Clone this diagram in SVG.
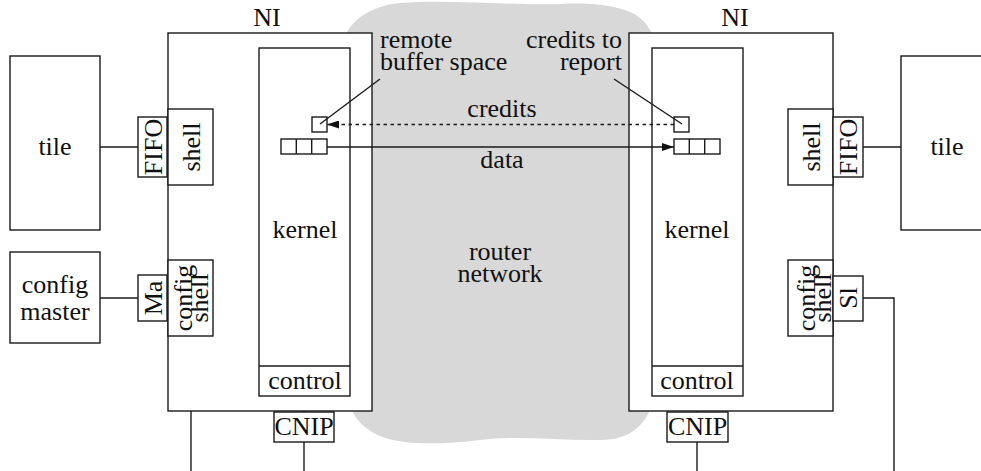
<svg xmlns="http://www.w3.org/2000/svg" width="981" height="471" viewBox="0 0 981 471">
  <defs>
    <style>
      .box { fill: #ffffff; stroke: #1a1a1a; stroke-width: 1.4; }
      .ln { fill: none; stroke: #1a1a1a; stroke-width: 1.4; }
      .dot { fill: none; stroke: #1a1a1a; stroke-width: 1.4; stroke-dasharray: 3.5 3.5; }
      text { font-family: "Liberation Serif", "DejaVu Serif", serif; font-size: 26px; fill: #111111; }
      .mid { text-anchor: middle; }
      .end { text-anchor: end; }
      .cloud { fill: #d8d8d8; stroke: none; }
    </style>
    <marker id="head" viewBox="0 0 12 8" refX="12" refY="4" markerWidth="12" markerHeight="8" markerUnits="userSpaceOnUse" orient="auto">
      <path d="M0,0 L12,4 L0,8 Z" fill="#111111"/>
    </marker>
  </defs>

  <!-- router network cloud -->
  <g id="router-network">
    <path class="cloud" d="M346,34 C353,20 370,6 400,3 C450,-1 520,6 560,4 C600,2 628,8 640,18 C652,28 656,40 656,60 L656,390 C650,425 630,440 600,440 C560,441 520,435 480,440 C440,445 400,445 380,436 C362,428 350,415 348,395 Z"/>
    <text class="mid" x="500" y="260">router</text>
    <text class="mid" x="500" y="282">network</text>
  </g>

  <!-- connectors -->
  <g id="connectors">
    <line class="ln" x1="100" y1="147" x2="138" y2="147"/>
    <line class="ln" x1="213" y1="147" x2="259" y2="147"/>
    <line class="ln" x1="100" y1="298" x2="138" y2="298"/>
    <line class="ln" x1="213" y1="298" x2="259" y2="298"/>
    <line class="ln" x1="191" y1="336" x2="191" y2="471"/>
    <line class="ln" x1="304" y1="396" x2="304" y2="412"/>
    <line class="ln" x1="304" y1="442" x2="304" y2="471"/>

    <line class="ln" x1="743" y1="147" x2="788" y2="147"/>
    <line class="ln" x1="863" y1="147" x2="901" y2="147"/>
    <line class="ln" x1="743" y1="298" x2="788" y2="298"/>
    <polyline class="ln" points="863,298 894,298 894,471"/>
    <line class="ln" x1="697" y1="396" x2="697" y2="412"/>
    <line class="ln" x1="697" y1="442" x2="697" y2="471"/>
  </g>

  <!-- left side -->
  <g id="tile-left">
    <rect class="box" x="10" y="56" width="90" height="174"/>
    <text class="mid" x="55" y="155">tile</text>
  </g>
  <g id="config-master">
    <rect class="box" x="10" y="252" width="90" height="91"/>
    <text class="mid" x="55" y="293">config</text>
    <text class="mid" x="55" y="320">master</text>
  </g>
  <g id="ni-left">
    <rect class="box" x="168" y="33" width="204" height="378"/>
    <text class="mid" x="267" y="26">NI</text>
  </g>
  <g id="kernel-left">
    <rect class="box" x="259" y="48" width="91" height="348"/>
    <line class="ln" x1="259" y1="366" x2="350" y2="366"/>
    <text class="mid" x="305" y="238">kernel</text>
    <text class="mid" x="305" y="389">control</text>
  </g>
  <g id="fifo-left">
    <rect class="box" x="138" y="117" width="29" height="60"/>
    <text class="mid" transform="translate(161.5,147) rotate(-90)">FIFO</text>
  </g>
  <g id="shell-left">
    <rect class="box" x="168" y="109" width="45" height="76"/>
    <text class="mid" transform="translate(200,147) rotate(-90)">shell</text>
  </g>
  <g id="ma">
    <rect class="box" x="138" y="275" width="29" height="46"/>
    <text class="mid" transform="translate(161.5,298) rotate(-90)">Ma</text>
  </g>
  <g id="config-shell-left">
    <rect class="box" x="168" y="260" width="45" height="76"/>
    <text class="mid" transform="translate(192,298) rotate(-90)">config</text>
    <text class="mid" transform="translate(208,298) rotate(-90)">shell</text>
  </g>
  <g id="cnip-left">
    <rect class="box" x="274" y="412" width="60" height="30"/>
    <text class="mid" x="304" y="435">CNIP</text>
  </g>
  <g id="remote-buffer">
    <rect class="box" x="312" y="117" width="15" height="15"/>
    <line class="ln" x1="380" y1="79" x2="320" y2="124"/>
    <text x="380" y="48">remote</text>
    <text x="380" y="70">buffer space</text>
  </g>
  <g id="send-queue">
    <rect class="box" x="281" y="139" width="46" height="15"/>
    <line class="ln" x1="296.3" y1="139" x2="296.3" y2="154"/>
    <line class="ln" x1="311.7" y1="139" x2="311.7" y2="154"/>
  </g>

  <!-- right side -->
  <g id="tile-right">
    <rect class="box" x="901" y="56" width="95" height="174"/>
    <text class="mid" x="947" y="155">tile</text>
  </g>
  <g id="ni-right">
    <rect class="box" x="629" y="33" width="204" height="378"/>
    <text class="mid" x="735" y="26">NI</text>
  </g>
  <g id="kernel-right">
    <rect class="box" x="652" y="48" width="91" height="348"/>
    <line class="ln" x1="652" y1="366" x2="743" y2="366"/>
    <text class="mid" x="697" y="238">kernel</text>
    <text class="mid" x="697" y="389">control</text>
  </g>
  <g id="shell-right">
    <rect class="box" x="788" y="109" width="45" height="76"/>
    <text class="mid" transform="translate(820,147) rotate(-90)">shell</text>
  </g>
  <g id="fifo-right">
    <rect class="box" x="833" y="117" width="30" height="60"/>
    <text class="mid" transform="translate(856.5,147) rotate(-90)">FIFO</text>
  </g>
  <g id="config-shell-right">
    <rect class="box" x="788" y="260" width="45" height="76"/>
    <text class="mid" transform="translate(815,298) rotate(-90)">config</text>
    <text class="mid" transform="translate(831,298) rotate(-90)">shell</text>
  </g>
  <g id="sl">
    <rect class="box" x="833" y="276" width="30" height="45"/>
    <text class="mid" transform="translate(856.5,298) rotate(-90)">Sl</text>
  </g>
  <g id="cnip-right">
    <rect class="box" x="667" y="412" width="61" height="30"/>
    <text class="mid" x="697.5" y="435">CNIP</text>
  </g>
  <g id="credits-to-report">
    <rect class="box" x="674" y="117" width="15" height="15"/>
    <line class="ln" x1="614" y1="79" x2="682" y2="124"/>
    <text class="end" x="622" y="48">credits to</text>
    <text class="end" x="622" y="70">report</text>
  </g>
  <g id="receive-queue">
    <rect class="box" x="674" y="139" width="46" height="15"/>
    <line class="ln" x1="689.3" y1="139" x2="689.3" y2="154"/>
    <line class="ln" x1="704.7" y1="139" x2="704.7" y2="154"/>
  </g>

  <!-- credit and data flows across the network -->
  <g id="flows">
    <line class="dot" x1="674" y1="124.5" x2="327" y2="124.5" marker-end="url(#head)"/>
    <line class="ln" x1="327" y1="147" x2="674" y2="147" marker-end="url(#head)"/>
    <text class="mid" x="502" y="117">credits</text>
    <text class="mid" x="502" y="168">data</text>
  </g>
</svg>
